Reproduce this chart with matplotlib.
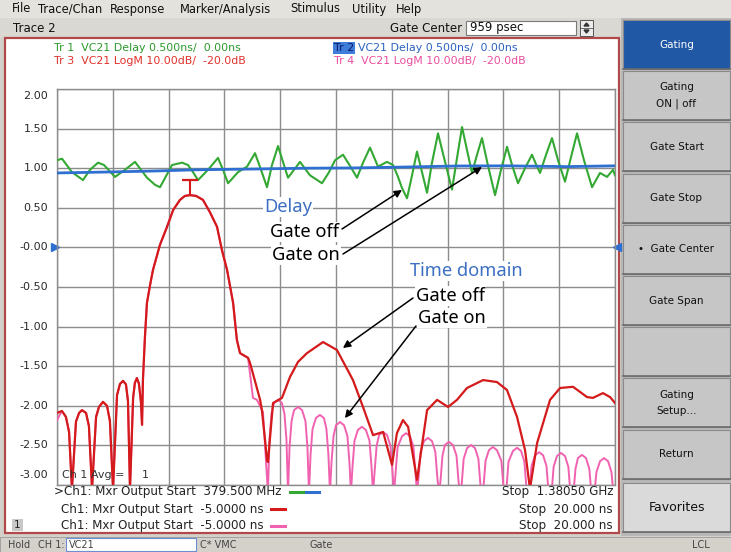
import matplotlib
matplotlib.use("Agg")
import matplotlib.pyplot as plt
from matplotlib.patches import Rectangle, Polygon
from matplotlib import transforms

plt.rcParams['font.family'] = ['DejaVu Sans']

# Tr 1 (green) - delay, gate off: frequency (MHz) / delay (ns)
delay_off_mhz = [379.5, 388.5, 406.4, 426.1, 438.7, 453.1, 463.8, 483.6, 501.5, 519.4,
                 530.2, 541.0, 555.3, 564.3, 575.1, 585.8, 603.8, 614.5, 623.5, 632.5,
                 650.4, 668.3, 677.3, 686.3, 704.2, 720.4, 734.7, 745.5, 756.2, 765.2,
                 776.0, 784.9, 793.9, 804.7, 815.4, 833.4, 854.9, 867.5, 878.2, 892.6,
                 905.1, 917.7, 928.5, 941.0, 955.4, 971.5, 982.3, 991.3, 998.4, 1007.4,
                 1016.4, 1025.3, 1034.3, 1043.3, 1052.2, 1063.0, 1075.6, 1088.1, 1097.1, 1106.1,
                 1115.0, 1124.0, 1133.0, 1141.9, 1152.7, 1165.3, 1176.0, 1186.8, 1195.8, 1206.5,
                 1219.1, 1231.6, 1238.8, 1246.0, 1256.8, 1267.5, 1278.3, 1290.8, 1301.6, 1312.4,
                 1324.9, 1339.3, 1353.6, 1366.2, 1377.0, 1380.5]
delay_off_ns = [1.10, 1.12, 0.95, 0.85, 0.98, 1.07, 1.04, 0.89, 0.98, 1.08,
                0.98, 0.88, 0.79, 0.76, 0.90, 1.04, 1.07, 1.04, 0.95, 0.85,
                0.98, 1.13, 0.98, 0.81, 0.95, 1.02, 1.19, 0.98, 0.76, 1.04,
                1.28, 1.08, 0.88, 0.98, 1.08, 0.91, 0.81, 0.95, 1.10, 1.17,
                1.03, 0.88, 1.07, 1.26, 1.02, 1.08, 1.04, 0.89, 0.75, 0.62,
                0.91, 1.21, 0.95, 0.69, 1.07, 1.44, 1.08, 0.73, 1.13, 1.52,
                1.23, 0.94, 1.17, 1.38, 1.03, 0.66, 0.98, 1.27, 1.04, 0.81,
                1.00, 1.17, 1.05, 0.94, 1.17, 1.38, 1.10, 0.83, 1.14, 1.44,
                1.10, 0.76, 0.94, 0.89, 0.98, 0.91]

# Tr 2 (blue) - delay, gate on
delay_on_mhz = [379.5, 456, 558, 630, 737, 827, 908, 1006, 1096, 1186, 1294, 1380.5]
delay_on_ns = [0.94, 0.95, 0.965, 0.98, 0.99, 1.00, 1.003, 1.015, 1.028, 1.03, 1.02, 1.03]

# Tr 3 (red) - time domain, gate off: time (ns) / magnitude (dB)
td_off_ns = [-5.00, -4.78, -4.60, -4.46, -4.33, -4.15, -4.01, -3.88, -3.70, -3.57,
             -3.43, -3.25, -3.12, -2.94, -2.76, -2.63, -2.49, -2.31, -2.18, -2.04,
             -1.91, -1.82, -1.73, -1.59, -1.51, -1.42, -1.33, -1.24, -1.19, -1.15,
             -1.06, -0.97, -0.83, -0.70, -0.39, -0.07, 0.20, 0.51, 0.73, 0.96,
             1.23, 1.54, 1.85, 2.17, 2.39, 2.62, 2.89, 3.06, 3.20, 3.56,
             3.65, 4.10, 4.18, 4.32, 4.41, 4.45, 4.68, 5.08, 5.44, 5.80,
             6.20, 6.92, 7.54, 8.26, 8.71, 9.16, 9.61, 10.01, 10.23, 10.50,
             10.73, 11.13, 11.58, 12.03, 12.52, 12.92, 13.37, 14.09, 14.71, 15.16,
             15.61, 15.97, 16.19, 16.51, 17.09, 17.54, 18.12, 18.75, 19.01, 19.46,
             19.78, 20.00]
td_off_db = [-61.8, -61.3, -62.8, -66.6, -81.0, -64.0, -61.8, -61.1, -61.8, -65.1,
             -81.0, -62.8, -60.3, -59.0, -60.0, -63.8, -81.0, -57.3, -54.5, -53.7,
             -54.6, -58.8, -81.0, -58.0, -54.2, -53.0, -54.4, -59.0, -64.8, -53.5,
             -42.6, -34.0, -29.5, -25.7, -19.4, -14.8, -10.6, -8.0, -7.0, -6.8,
             -7.0, -8.0, -11.1, -14.8, -20.7, -25.7, -34.0, -43.4, -46.7, -47.9,
             -49.2, -58.5, -61.1, -68.6, -73.7, -74.2, -59.3, -58.0, -52.7, -48.9,
             -46.7, -43.9, -45.9, -53.5, -60.3, -67.4, -66.6, -74.9, -66.9, -63.6,
             -65.3, -78.7, -61.1, -58.5, -60.3, -58.5, -55.5, -53.5, -54.0, -56.0,
             -62.8, -71.2, -81.0, -69.4, -58.5, -55.5, -55.2, -57.8, -58.0, -56.8,
             -57.8, -59.3]

# Tr 4 (pink) - time domain, gate on
td_on_ns = [-5.00, -4.78, -4.60, -4.46, -4.33, -4.15, -4.01, -3.88, -3.70, -3.57,
            -3.43, -3.25, -3.12, -2.94, -2.76, -2.63, -2.49, -2.31, -2.18, -2.04,
            -1.91, -1.82, -1.73, -1.59, -1.51, -1.42, -1.33, -1.24, -1.19, -1.15,
            -1.06, -0.97, -0.83, -0.70, -0.39, -0.07, 0.20, 0.51, 0.73, 0.96,
            1.23, 1.54, 1.85, 2.17, 2.39, 2.62, 2.89, 3.06, 3.20, 3.56,
            3.78, 3.96, 4.23, 4.45,
            4.52, 4.61, 4.72, 4.90, 5.08, 5.19, 5.28, 5.35,
            5.42, 5.51, 5.62, 5.80, 5.98, 6.13, 6.22, 6.29,
            6.36, 6.45, 6.60, 6.78, 6.96, 7.07, 7.16, 7.23,
            7.30, 7.39, 7.50, 7.68, 7.86, 8.01, 8.10, 8.17,
            8.24, 8.33, 8.48, 8.66, 8.84, 9.00, 9.09, 9.16,
            9.23, 9.32, 9.43, 9.61, 9.79, 9.94, 10.03, 10.10,
            10.17, 10.26, 10.46, 10.64, 10.82, 10.97, 11.06, 11.13,
            11.20, 11.29, 11.44, 11.62, 11.80, 11.95, 12.04, 12.11,
            12.18, 12.27, 12.38, 12.56, 12.74, 12.90, 12.99, 13.06,
            13.13, 13.22, 13.37, 13.55, 13.73, 13.88, 13.97, 14.04,
            14.11, 14.20, 14.35, 14.53, 14.71, 14.91, 15.00, 15.07,
            15.14, 15.23, 15.43, 15.61, 15.79, 15.94, 16.03, 16.10,
            16.17, 16.26, 16.42, 16.60, 16.78, 16.93, 17.02, 17.09,
            17.16, 17.25, 17.40, 17.58, 17.76, 17.91, 18.00, 18.07,
            18.14, 18.23, 18.34, 18.52, 18.70, 18.85, 18.94, 19.01,
            19.08, 19.17, 19.33, 19.51, 19.69, 19.84, 19.93, 20.00]
td_on_db = [-63.6, -61.3, -62.8, -66.6, -81.0, -64.0, -61.8, -61.1, -61.8, -65.1,
            -81.0, -62.8, -60.3, -59.0, -60.0, -63.8, -81.0, -57.3, -54.5, -53.7,
            -54.6, -58.8, -81.0, -58.0, -54.2, -53.0, -54.4, -59.0, -64.8, -53.5,
            -42.6, -34.0, -29.5, -25.7, -19.4, -14.8, -10.6, -8.0, -7.0, -6.8,
            -7.0, -8.0, -11.1, -14.8, -20.7, -25.7, -34.0, -43.4, -46.7, -47.9,
            -58.0, -58.5, -61.6, -82.0,
            -68.5, -62.0, -59.3, -58.5, -59.3, -62.0, -68.5, -82.0,
            -70.3, -63.8, -61.1, -60.3, -61.1, -63.8, -70.3, -82.0,
            -72.3, -65.8, -63.1, -62.3, -63.1, -65.8, -72.3, -82.0,
            -74.1, -67.6, -64.9, -64.1, -64.9, -67.6, -74.1, -82.0,
            -75.3, -68.8, -66.1, -65.3, -66.1, -68.8, -75.3, -82.0,
            -76.6, -70.1, -67.4, -66.6, -67.4, -70.1, -76.6, -82.0,
            -76.9, -70.4, -67.7, -66.9, -67.7, -70.4, -76.9, -82.0,
            -78.1, -71.6, -68.9, -68.1, -68.9, -71.6, -78.1, -82.0,
            -79.1, -72.6, -69.9, -69.1, -69.9, -72.6, -79.1, -82.0,
            -79.9, -73.4, -70.7, -69.9, -70.7, -73.4, -79.9, -82.0,
            -80.4, -73.9, -71.2, -70.4, -71.2, -73.9, -80.4, -82.0,
            -80.6, -74.1, -71.4, -70.6, -71.4, -74.1, -80.6, -82.0,
            -81.7, -75.2, -72.5, -71.7, -72.5, -75.2, -81.7, -82.0,
            -81.9, -75.4, -72.7, -71.9, -72.7, -75.4, -81.9, -82.0,
            -82.0, -75.9, -73.2, -72.4, -73.2, -75.9, -82.0, -82.0,
            -82.0, -76.7, -74.0, -73.2, -74.0, -76.7, -82.0, -82.0]

y_ticks = [2.0, 1.5, 1.0, 0.5, 0.0, -0.5, -1.0, -1.5, -2.0, -2.5, -3.0]
y_tick_labels = ["2.00", "1.50", "1.00", "0.50", "-0.00", "-0.50", "-1.00",
                 "-1.50", "-2.00", "-2.50", "-3.00"]

menu_items = [("File", 12), ("Trace/Chan", 38), ("Response", 110), ("Marker/Analysis", 180),
              ("Stimulus", 290), ("Utility", 352), ("Help", 396)]
softkeys = ["Gating", "Gating\nON | off", "Gate Start", "Gate Stop", "\u2022  Gate Center",
            "Gate Span", "", "Gating\nSetup...", "Return", "Favorites"]

GREEN, BLUE, RED, PINK = "#33a833", "#2e6fd0", "#d41a1a", "#f062b0"
W, H = 731, 552

fig = plt.figure(figsize=(W / 100, H / 100), dpi=100)
fig.patch.set_facecolor("#d4d1cb")

# background layer in pixel coordinates
bg = fig.add_axes([0, 0, 1, 1], zorder=0)
bg.set_xlim(0, W)
bg.set_ylim(H, 0)
bg.axis("off")
bg.add_patch(Rectangle((0, 0), W, 18, facecolor="#e4e2dd", edgecolor="none"))
bg.add_patch(Rectangle((0, 18), 621, 20, facecolor="#dad8d2", edgecolor="none"))
bg.add_patch(Rectangle((5, 38), 614, 495, facecolor="white", edgecolor="#b04a4a", lw=1.6))
bg.add_patch(Rectangle((621, 18), 110, 518, facecolor="#b8b8b8", edgecolor="none"))
bg.add_patch(Rectangle((0, 537), W, 15, facecolor="#d4d1cb", edgecolor="#9a9a9a", lw=0.6))

for name, x in menu_items:
    bg.text(x, 9, name, fontsize=8.3, va="center", ha="left", color="#111")
bg.text(13, 28, "Trace 2", fontsize=8.5, va="center", color="#111")
bg.text(462, 28, "Gate Center", fontsize=8.5, va="center", ha="right", color="#111")
bg.add_patch(Rectangle((466, 21), 110, 14, facecolor="white", edgecolor="#7a7a7a", lw=0.8))
bg.text(470, 28, "959 psec", fontsize=8.5, va="center", color="#111")
bg.add_patch(Rectangle((580, 20), 13, 16, facecolor="#ececec", edgecolor="#555", lw=0.7))
bg.plot([580, 593], [28, 28], color="#555", lw=0.6)
bg.add_patch(Polygon([(584, 26), (589, 26), (586.5, 23)], color="#333"))
bg.add_patch(Polygon([(584, 30), (589, 30), (586.5, 33)], color="#333"))

# soft keys
key_top = 20
for i, label in enumerate(softkeys):
    y0 = key_top + i * 51.2
    h = 49
    if i == 0:
        fc, tc, fs = "#2058a6", "white", 7.5
    elif label == "Favorites":
        fc, tc, fs = "#dadada", "#111", 9
        y0 += 2
    else:
        fc, tc, fs = "#c6c6c6", "#111", 7.5
    bg.add_patch(Rectangle((623, y0), 107, h, facecolor=fc, edgecolor="#8a8a8a", lw=0.8))
    bg.plot([623, 730], [y0 + h, y0 + h], color="#6c6c6c", lw=1.2)
    bg.text(676.5, y0 + h / 2, label, fontsize=fs, color=tc, ha="center", va="center",
            linespacing=1.8)

# status bar
for txt, x in [("Hold", 8), ("CH 1:", 38), ("C* VMC", 200), ("Gate", 310), ("LCL", 692)]:
    bg.text(x, 545, txt, fontsize=7, va="center", color="#444")
bg.add_patch(Rectangle((66, 538), 130, 13, facecolor="white", edgecolor="#6b8fd0", lw=0.8))
bg.text(69, 545, "VC21", fontsize=7, va="center", color="#444")

# graticule axes
rect = [57 / W, (H - 485) / H, 558 / W, 396 / H]
ax = fig.add_axes(rect, zorder=2)
ax.set_facecolor("none")
ax.set_xlim(379.5, 1380.5)
ax.set_ylim(-3.0, 2.0)
ax.set_xticks([379.5 + k * 100.1 for k in range(11)])
ax.set_yticks(y_ticks)
ax.grid(True, color="#8c8c8c", lw=1.0)
ax.tick_params(length=0, labelbottom=False, labelleft=False)
for s in ax.spines.values():
    s.set_color("#8c8c8c")
    s.set_linewidth(1.0)

ax.plot(delay_off_mhz, delay_off_ns, color=GREEN, lw=1.5, zorder=3, solid_joinstyle="round")
ax.plot(delay_on_mhz, delay_on_ns, color=BLUE, lw=2.0, zorder=4)

ax2 = fig.add_axes(rect, zorder=3)
ax2.set_facecolor("none")
ax2.set_xlim(-5, 20)
ax2.set_ylim(-80, 20)
ax2.axis("off")
ax2.plot(td_on_ns, td_on_db, color=PINK, lw=1.4, zorder=3, solid_joinstyle="round")
ax2.plot(td_off_ns, td_off_db, color=RED, lw=1.6, zorder=4, solid_joinstyle="round")

# marker on the main lobe peak
pk = max(td_off_db)
t_pk = td_off_ns[td_off_db.index(pk)]
ax2.plot([t_pk, t_pk], [pk, pk + 3.8], color=RED, lw=1.5, zorder=5)
ax2.plot(t_pk, pk + 3.8, marker="_", markersize=11, mew=1.6, color=RED, zorder=5)

# y labels (scale of active trace)
lab_tr = transforms.blended_transform_factory(ax.transAxes, ax.transData)
for v, lab in zip(y_ticks, y_tick_labels):
    off = 0
    if v == 2.0:
        off = -7
    elif v == -3.0:
        off = 10
    t = lab_tr + transforms.ScaledTranslation(0, off / 100, fig.dpi_scale_trans)
    ax.text(-0.016, v, lab, transform=t, ha="right", va="center", fontsize=8,
            color="#2a2a2a", clip_on=False)
ax.plot(-0.004, 0, marker=">", markersize=6, color=BLUE, transform=lab_tr, clip_on=False)
ax.plot(1.004, 0, marker="<", markersize=6, color=BLUE, transform=lab_tr, clip_on=False)

# overlay: header texts, notes, arrows
ov = fig.add_axes([0, 0, 1, 1], zorder=6)
ov.set_xlim(0, W)
ov.set_ylim(H, 0)
ov.axis("off")
ov.patch.set_alpha(0)

hdr = dict(fontsize=7.9, va="center")
ov.text(54, 48, "Tr 1  VC21 Delay 0.500ns/  0.00ns", color="#2c9a2c", **hdr)
ov.text(54, 61, "Tr 3  VC21 LogM 10.00dB/  -20.0dB", color="#e0312b", **hdr)
ov.text(334, 48, "Tr 2", color="#0b1d66",
        bbox=dict(boxstyle="square,pad=0.12", facecolor="#3f7ddb", edgecolor="none"), **hdr)
ov.text(358, 48, "VC21 Delay 0.500ns/  0.00ns", color="#2b62c0", **hdr)
ov.text(334, 61, "Tr 4  VC21 LogM 10.00dB/  -20.0dB", color="#ea4f9f", **hdr)

foot = dict(fontsize=8.6, color="#222", va="center")
ov.text(62, 475, "Ch 1 Avg =     1", fontsize=8, color="#333", va="center")
ov.text(54, 492, ">Ch1: Mxr Output Start  379.500 MHz", **foot)
ov.text(61, 509, "Ch1: Mxr Output Start  -5.0000 ns", **foot)
ov.text(61, 526, "Ch1: Mxr Output Start  -5.0000 ns", **foot)
ov.plot([290, 303], [492, 492], color=GREEN, lw=2.2)
ov.plot([306, 319], [492, 492], color=BLUE, lw=2.2)
ov.plot([271, 285], [509, 509], color=RED, lw=2.2)
ov.plot([271, 285], [526, 526], color=PINK, lw=2.2)
for y, s in [(492, "Stop  1.38050 GHz"), (509, "Stop  20.000 ns"), (526, "Stop  20.000 ns")]:
    ov.text(613, y, s, ha="right", **foot)
ov.add_patch(Rectangle((12, 519), 11, 12, facecolor="#c8c8c8", edgecolor="none"))
ov.text(17.5, 525, "1", fontsize=7.5, color="#222", ha="center", va="center")

note = dict(fontsize=13.2, family=["Noto Sans", "DejaVu Sans"], va="center")
wbox = dict(boxstyle="square,pad=0.05", facecolor="white", edgecolor="none")
ov.text(288, 207, "Delay", color="#3d6fc3", ha="center", bbox=wbox, **note)
ov.text(270, 232, "Gate off", color="black", bbox=wbox, **note)
ov.text(272, 255, "Gate on", color="black", bbox=wbox, **note)
ov.text(466, 271, "Time domain", color="#3d6fc3", ha="center", bbox=wbox, **note)
ov.text(416, 296, "Gate off", color="black", bbox=wbox, **note)
ov.text(418, 318, "Gate on", color="black", bbox=wbox, **note)

arrow = dict(arrowstyle="-|>", color="black", lw=1.1, mutation_scale=11, shrinkA=0, shrinkB=0)
ov.annotate("", xy=(998.4, 0.725), xycoords=ax.transData, xytext=(342, 229),
            textcoords="data", arrowprops=arrow)
ov.annotate("", xy=(1141.9, 1.015), xycoords=ax.transData, xytext=(343, 254),
            textcoords="data", arrowprops=arrow)
ov.annotate("", xy=(7.81, -45.4), xycoords=ax2.transData, xytext=(413, 298),
            textcoords="data", arrowprops=arrow)
ov.annotate("", xy=(7.90, -63.1), xycoords=ax2.transData, xytext=(416, 326),
            textcoords="data", arrowprops=arrow)

fig.savefig("out.png", dpi=100)
